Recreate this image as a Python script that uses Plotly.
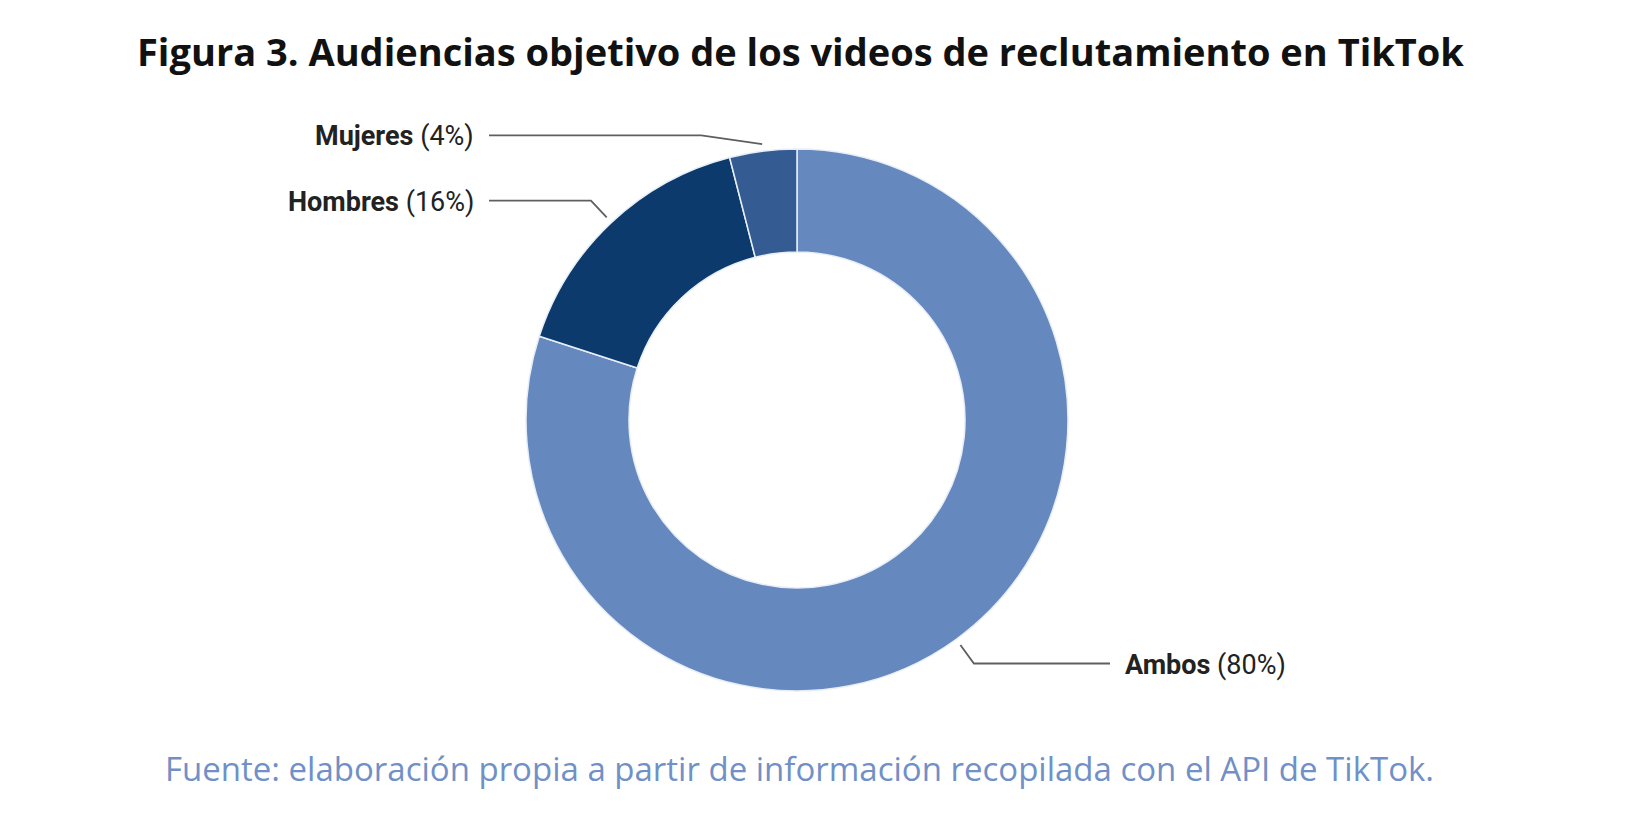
import math
import plotly.graph_objects as go

# datos de la figura
labels = ['Ambos', 'Hombres', 'Mujeres']
values = [80, 16, 4]
colors = ['#6588bf', '#0d3a6c', '#345c93']

title = 'Figura 3. Audiencias objetivo de los videos de reclutamiento en TikTok'
source = 'Fuente: elaboración propia a partir de información recopilada con el API de TikTok.'

# tamaño del lienzo (px) y posicion del anillo
W, H = 1618, 799
OFF = 8
cx, cy, R = 797 - OFF, 420 - OFF, 271

# ajuste manual de los codos de las lineas guia
elbow_shift = {'Mujeres': (-58, 14)}
line_left, line_right = 489 - OFF, 1110 - OFF


def px(x):
    return x / W


def py(y):
    return 1 - y / H


fig = go.Figure()
fig.add_trace(go.Pie(
    labels=labels, values=values, hole=0.62, sort=False,
    direction='clockwise', rotation=0,
    marker=dict(colors=colors, line=dict(color='#e8eef6', width=1.5)),
    textinfo='none', hoverinfo='label+percent', showlegend=False,
    domain=dict(x=[px(cx - R), px(cx + R)], y=[py(cy + R), py(cy - R)]),
))

# lineas guia y etiquetas
total = sum(values)
cum = 0
for lab, v in zip(labels, values):
    frac = (cum + v / 2) / total
    cum += v
    th = 2 * math.pi * frac
    dx, dy = math.sin(th), -math.cos(th)
    x0, y0 = cx + (R + 7) * dx, cy + (R + 7) * dy
    x1, y1 = cx + (R + 30) * dx, cy + (R + 30) * dy
    sx, sy = elbow_shift.get(lab, (0, 0))
    x1, y1 = x1 + sx, y1 + sy
    right = dx > 0
    x2 = line_right if right else line_left
    fig.add_shape(type='path',
                  path=f'M {px(x0)} {py(y0)} L {px(x1)} {py(y1)} L {px(x2)} {py(y1)}',
                  xref='paper', yref='paper', line=dict(color='#5f5f5f', width=1.8))
    pct = round(v / total * 100)
    fig.add_annotation(x=px(x2 + (13 if right else -13)), y=py(y1 + 1), xref='paper', yref='paper',
                       text=f'<b>{lab}</b> ({pct}%)', showarrow=False,
                       xanchor='left' if right else 'right', yanchor='middle',
                       font=dict(family='Roboto', size=27, color='#222222'))

fig.add_annotation(x=px(800 - OFF), y=py(51 - OFF), xref='paper', yref='paper',
                   text=f'<b>{title}</b>', showarrow=False, xanchor='center', yanchor='middle',
                   font=dict(family='Open Sans', size=38, color='#111111'))
fig.add_annotation(x=px(799 - OFF), y=py(768 - OFF), xref='paper', yref='paper',
                   text=source, showarrow=False, xanchor='center', yanchor='middle',
                   font=dict(family='Open Sans', size=33, color='#7090c7'))

fig.update_layout(width=W, height=H, margin=dict(l=0, r=0, t=0, b=0),
                  paper_bgcolor='white', plot_bgcolor='white')

fig.write_html('out.html')
